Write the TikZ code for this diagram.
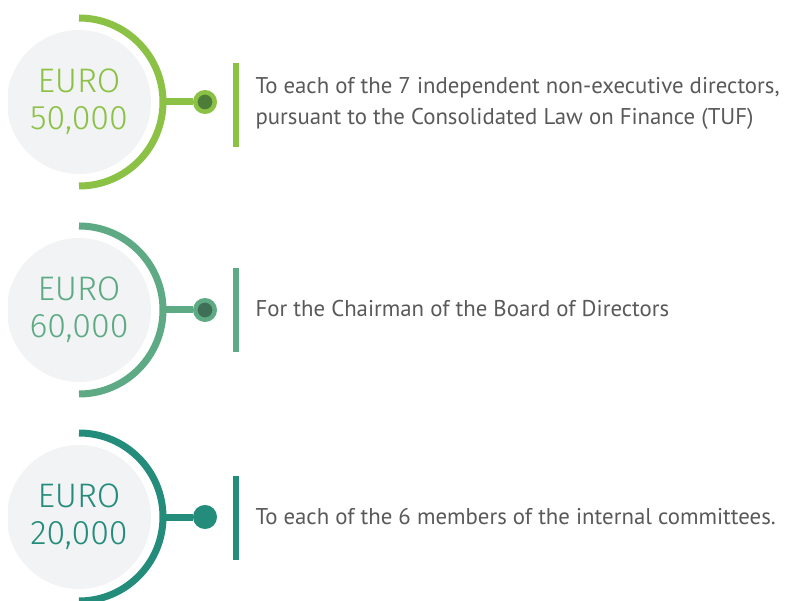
\documentclass[tikz,border=0pt]{standalone}
\usepackage{fontspec}
\setmainfont{PT Sans}
\newfontfamily\eurofont{Fira Sans Light}
\usepackage{tikz}
\usetikzlibrary{calc}

\definecolor{lime}{HTML}{8BC145}
\definecolor{limedark}{HTML}{4E7D3A}
\definecolor{sage}{HTML}{5DAA85}
\definecolor{sagedark}{HTML}{3F6F57}
\definecolor{teal}{HTML}{248C7B}
\definecolor{bodygray}{HTML}{595959}
\definecolor{disc}{HTML}{F2F3F4}

\begin{document}
\begin{tikzpicture} [
    x=1pt, y=-1pt,
    amount/.style = {circle, fill=disc, minimum size=144pt, inner sep=0pt, align=center,
        font=\eurofont\fontsize{34}{37}\selectfont},
    ring/.style = {line width=7pt},
    link/.style = {line width=7pt},
    dot/.style = {circle, line width=4.5pt, minimum size=19.5pt, inner sep=0pt},
    bar/.style = {rectangle, minimum width=6.5pt, minimum height=84pt, inner sep=0pt},
    info/.style = {anchor=west, align=left, text=bodygray,
        font=\fontsize{22.8}{31}\selectfont}
]
    \useasboundingbox (0,0) rectangle (790,601);

    % discs, cut at the left margin
    \begin{scope}
        \clip (8,0) rectangle (790,601);
        \node [amount, text=lime] (amt1) at (79,102) {EURO\\50,000};
        \node [amount, text=sage] (amt2) at (79,310) {EURO\\60,000};
        \node [amount, text=teal] (amt3) at (79,517) {EURO\\20,000};
    \end{scope}

    % first block
    \draw [ring, lime] (79,18) arc [start angle=-90, end angle=90, radius=84];
    \coordinate (arc1) at (163,102);
    \node [dot, draw=lime, fill=limedark] (dot1) at (205,102) {};
    \draw [link, lime] (arc1) -- (dot1.west);
    \node [bar, fill=lime] (bar1) at (235.75,105) {};
    \node [info] (txt1) at (252,103) {To each of the 7 independent non-executive directors,\\pursuant to the Consolidated Law on Finance (TUF)};

    % second block
    \draw [ring, sage] (79,226) arc [start angle=-90, end angle=90, radius=84];
    \coordinate (arc2) at (163,310);
    \node [dot, draw=sage, fill=sagedark] (dot2) at (205,310) {};
    \draw [link, sage] (arc2) -- (dot2.west);
    \node [bar, fill=sage] (bar2) at (235.75,310.5) {};
    \node [info] (txt2) at (252,309) {For the Chairman of the Board of Directors};

    % third block
    \draw [ring, teal] (79,433) arc [start angle=-90, end angle=90, radius=84];
    \coordinate (arc3) at (163,517);
    \node [dot, draw=teal, fill=teal] (dot3) at (205,517) {};
    \draw [link, teal] (arc3) -- (dot3.west);
    \node [bar, fill=teal] (bar3) at (235.75,518) {};
    \node [info] (txt3) at (252,517) {To each of the 6 members of the internal committees.};
\end{tikzpicture}
\end{document}
